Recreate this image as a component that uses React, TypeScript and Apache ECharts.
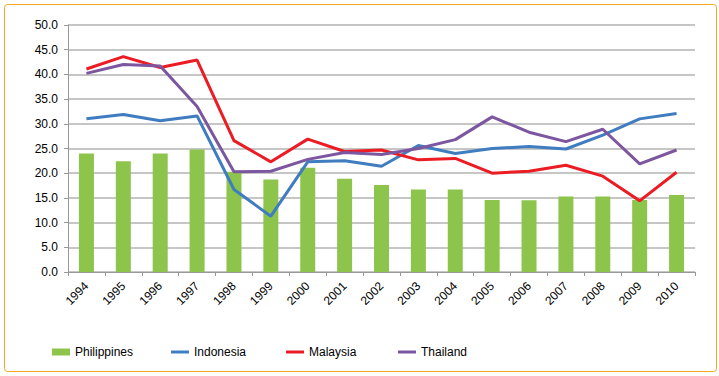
import React, { useEffect, useRef } from "react";
import * as echarts from "echarts";

const years = ["1994","1995","1996","1997","1998","1999","2000","2001","2002","2003","2004","2005","2006","2007","2008","2009","2010"];
const philippines = [24.0, 22.4, 24.0, 24.8, 20.3, 18.7, 21.1, 18.9, 17.6, 16.7, 16.7, 14.6, 14.5, 15.3, 15.3, 14.6, 15.6];
const indonesia = [31.0, 31.9, 30.6, 31.6, 16.7, 11.3, 22.3, 22.5, 21.4, 25.6, 24.0, 25.0, 25.4, 24.9, 27.7, 31.0, 32.1];
const malaysia = [41.1, 43.6, 41.4, 42.9, 26.6, 22.3, 26.9, 24.4, 24.7, 22.7, 23.0, 20.0, 20.4, 21.6, 19.4, 14.4, 20.2];
const thailand = [40.2, 42.0, 41.7, 33.5, 20.3, 20.4, 22.8, 24.2, 23.8, 25.0, 26.8, 31.4, 28.3, 26.4, 28.9, 21.9, 24.7];
const yTicks = { min: 0, max: 50, interval: 5 };

const FONT = "Liberation Sans";
const colors = { ph: "#8DC44C", id: "#3F7DC0", my: "#EC1C24", th: "#7D56A0" };

export default function App() {
  const ref = useRef<HTMLDivElement>(null);
  useEffect(() => {
    if (!ref.current) return;
    const chart = echarts.init(ref.current, null, { renderer: "svg" });
    const legendText = { fontFamily: FONT, fontSize: 12, color: "#000" };
    chart.setOption({
      animation: false,
      backgroundColor: "#fff",
      graphic: [
        {
          type: "rect",
          shape: { x: 4.5, y: 4.5, width: 712, height: 367, r: 3 },
          style: { fill: "none", stroke: "#F5A623", lineWidth: 1 },
          silent: true,
        },
      ],
      grid: { left: 68, right: 24, top: 25, bottom: 104, containLabel: false },
      legend: [
        { data: ["Philippines"], left: 47, top: 341, icon: "rect", itemWidth: 18, itemHeight: 7, textStyle: legendText },
        { data: ["Indonesia"], left: 166, top: 341, icon: "rect", itemWidth: 18, itemHeight: 3, textStyle: legendText },
        { data: ["Malaysia"], left: 281, top: 341, icon: "rect", itemWidth: 18, itemHeight: 3, textStyle: legendText },
        { data: ["Thailand"], left: 393, top: 341, icon: "rect", itemWidth: 18, itemHeight: 3, textStyle: legendText },
      ],
      xAxis: {
        type: "category",
        data: years,
        boundaryGap: true,
        axisLine: { lineStyle: { color: "#999", width: 1 } },
        axisTick: { show: true, length: 4, lineStyle: { color: "#999" } },
        axisLabel: { rotate: 45, fontFamily: FONT, fontSize: 12, color: "#000", margin: 12, interval: 0 },
      },
      yAxis: {
        type: "value",
        min: yTicks.min,
        max: yTicks.max,
        interval: yTicks.interval,
        axisLine: { show: true, lineStyle: { color: "#999", width: 1 } },
        axisTick: { show: true, length: 4, lineStyle: { color: "#999" } },
        splitLine: { lineStyle: { color: "#B3B3B3", width: 1.5 } },
        axisLabel: {
          fontFamily: FONT,
          fontSize: 12,
          color: "#000",
          margin: 10,
          formatter: (v: number) => v.toFixed(1),
        },
      },
      series: [
        { name: "Philippines", type: "bar", data: philippines, barWidth: 15, itemStyle: { color: colors.ph } },
        { name: "Indonesia", type: "line", data: indonesia, symbol: "none", lineStyle: { color: colors.id, width: 3 }, itemStyle: { color: colors.id } },
        { name: "Malaysia", type: "line", data: malaysia, symbol: "none", lineStyle: { color: colors.my, width: 3 }, itemStyle: { color: colors.my } },
        { name: "Thailand", type: "line", data: thailand, symbol: "none", lineStyle: { color: colors.th, width: 3 }, itemStyle: { color: colors.th } },
      ],
    });
    return () => chart.dispose();
  }, []);
  return <div ref={ref} style={{ position: "fixed", left: 0, top: 0, width: 719, height: 376 }} />;
}
